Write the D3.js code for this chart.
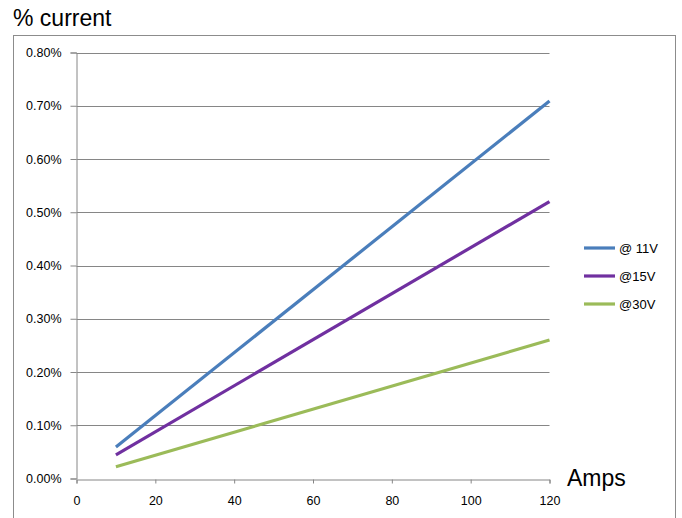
<!DOCTYPE html>
<html><head><meta charset="utf-8">
<script src="https://cdn.jsdelivr.net/npm/d3@7"></script>
<style>body{margin:0;background:#fff}svg{display:block}</style>
</head><body>
<script>
const amps = [10, 120];
const s11 = [0.00059, 0.00709];
const s15 = [0.000445, 0.0052];
const s30 = [0.00022, 0.0026];
const seriesNames = ["@ 11V", "@15V", "@30V"];
const seriesColors = ["#4a7ebb", "#7030a0", "#9bbb59"];
const yTicks = [0, 0.001, 0.002, 0.003, 0.004, 0.005, 0.006, 0.007, 0.008];
const xTicks = [0, 20, 40, 60, 80, 100, 120];

const W = 682, H = 518;
const svg = d3.select("body").append("svg").attr("width", W).attr("height", H);
const font = "Liberation Sans, Arial, sans-serif";

svg.append("rect").attr("x", 13.5).attr("y", 35.5).attr("width", 662).attr("height", 500)
  .attr("fill", "none").attr("stroke", "#8c8c8c").attr("stroke-width", 1);

svg.append("text").attr("x", 13).attr("y", 26).attr("font-family", font)
  .attr("font-size", 23).attr("fill", "#000").text("% current");

const x = d3.scaleLinear().domain([0, 120]).range([76.5, 549.5]);
const y = d3.scaleLinear().domain([0, 0.008]).range([478.5, 52.5]);

// gridlines
svg.append("g").selectAll("line").data(yTicks.slice(1)).join("line")
  .attr("x1", 76.5).attr("x2", 549.5).attr("y1", d => Math.round(y(d)) + 0.5).attr("y2", d => Math.round(y(d)) + 0.5)
  .attr("stroke", "#868686").attr("stroke-width", 1);

const yAxis = svg.append("g").attr("transform", "translate(76.5,0)")
  .call(d3.axisLeft(y).tickValues(yTicks).tickFormat(d3.format(".2%")).tickSize(6).tickPadding(9));
const xAxis = svg.append("g").attr("transform", `translate(0,${Math.round(y(0)) + 0.5})`)
  .call(d3.axisBottom(x).tickValues(xTicks).tickFormat(d3.format("d")).tickSize(4).tickPadding(13));
[yAxis, xAxis].forEach(a => {
  a.select(".domain").attr("stroke", "#868686");
  a.selectAll(".tick line").attr("stroke", "#868686");
  a.selectAll("text").attr("font-family", font).attr("font-size", 12.5).attr("fill", "#000");
});

svg.append("text").attr("x", 567).attr("y", 486).attr("font-family", font)
  .attr("font-size", 23).attr("fill", "#000").text("Amps");

const all = [s11, s15, s30];
const line = d3.line().x((d, i) => x(amps[i])).y(d => y(d));
all.forEach((s, k) => {
  svg.append("path").datum(s).attr("d", line).attr("fill", "none")
    .attr("stroke", seriesColors[k]).attr("stroke-width", 3.2);
});

const leg = svg.append("g");
seriesNames.forEach((n, k) => {
  const yy = 248 + k * 28;
  leg.append("line").attr("x1", 584).attr("x2", 615).attr("y1", yy).attr("y2", yy)
    .attr("stroke", seriesColors[k]).attr("stroke-width", 3.2);
  leg.append("text").attr("x", 619).attr("y", yy + 4.5).attr("font-family", font)
    .attr("font-size", 13).attr("fill", "#000").text(n);
});
</script>
</body></html>
